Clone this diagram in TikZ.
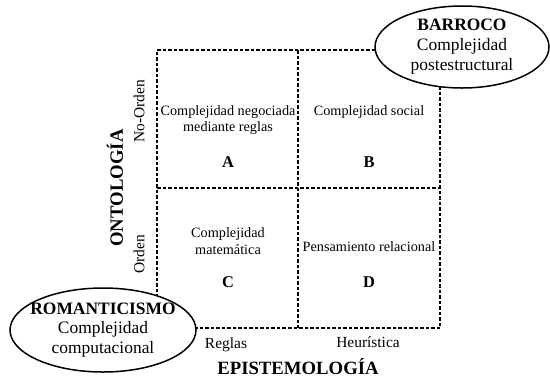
\documentclass[tikz,border=0pt]{standalone}
\usepackage{fontspec}
\setmainfont{Liberation Serif}
\usetikzlibrary{shapes}

\begin{document}
\begin{tikzpicture}[x=1bp, y=-1bp,
  grid/.style={dash pattern=on 3.5bp off 2bp, line width=1.1bp},
  cell/.style={align=center, font=\fontsize{14.3}{16.5}\selectfont},
  letter/.style={font=\fontsize{16.5}{18}\selectfont\bfseries},
  axis/.style={font=\fontsize{15.5}{17}\selectfont},
  title/.style={font=\fontsize{18.8}{21}\selectfont\bfseries},
  era/.style={draw, ellipse, fill=white, line width=1.5bp, align=center,
    inner xsep=-10bp, inner ysep=0pt, minimum width=174bp, minimum height=82bp,
    font=\fontsize{17.5}{20}\selectfont}]
\useasboundingbox (0,0) rectangle (550,377);
% corners of the grid
\coordinate (tl) at (157,50);
\coordinate (tm) at (298,50);
\coordinate (tr) at (440,50);
\coordinate (ml) at (157,188);
\coordinate (mr) at (440,188);
\coordinate (bl) at (157,328);
\coordinate (bm) at (298,328);
\coordinate (br) at (440,328);
\draw[grid] (tl) -- (tr) -- (br) -- (bl) -- cycle;
\draw[grid] (tm) -- (bm);
\draw[grid] (ml) -- (mr);
% cells
\node[cell] (a) at (228,120) {Complejidad negociada\\mediante reglas};
\node[letter] (la) at (228,162) {A};
\node[cell] (b) at (369,112) {Complejidad social};
\node[letter] (lb) at (369,162) {B};
\node[cell] (c) at (228,241) {Complejidad\\matemática};
\node[letter] (lc) at (228,282) {C};
\node[cell] (d) at (369,247) {Pensamiento relacional};
\node[letter] (ld) at (369,282) {D};
% axes
\node[title, rotate=90] (onto) at (115,188) {ONTOLOGÍA};
\node[axis, rotate=90] (noord) at (139,111) {No-Orden};
\node[axis, rotate=90] (ord) at (139,254) {Orden};
\node[axis, anchor=base] (reg) at (226,348) {Reglas};
\node[axis, anchor=base] (heu) at (368,347) {Heurística};
\node[title, anchor=base, inner sep=1bp] (epi) at (298,374) {EPISTEMOLOGÍA};
% ellipses
\node[era] (barroco) at (462,47) {\textbf{BARROCO}\\Complejidad\\postestructural};
\node[era, minimum width=186bp, minimum height=84bp] (roman) at (103,330) {\textbf{ROMANTICISMO}\\Complejidad\\computacional};
\end{tikzpicture}
\end{document}
